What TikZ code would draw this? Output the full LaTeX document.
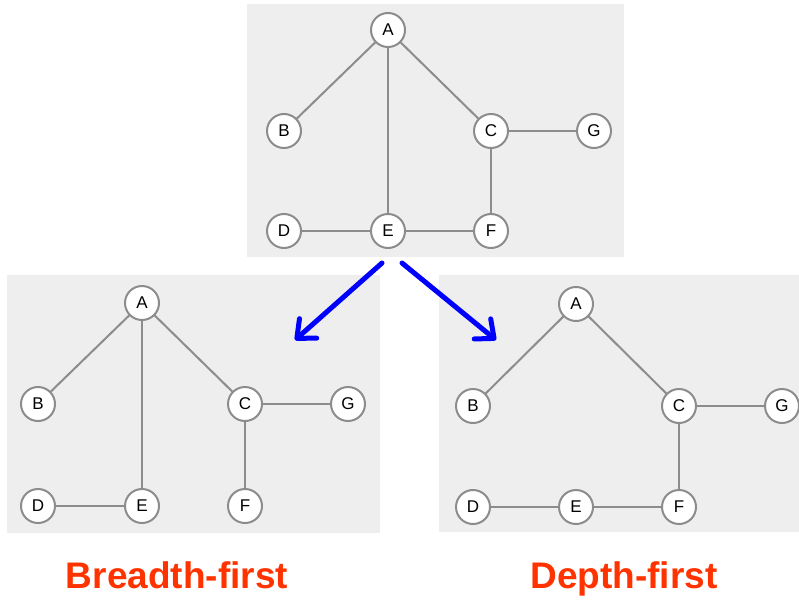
\documentclass[tikz,border=0pt]{standalone}
\usepackage{fontspec}
\setmainfont{Liberation Sans}
\usetikzlibrary{arrows.meta}
\definecolor{panelbg}{HTML}{EEEEEE}
\definecolor{edgegray}{HTML}{8C8C8C}
\definecolor{titlered}{HTML}{FF3300}
\begin{document}
\begin{tikzpicture}[x=1pt,y=-1pt,
  vtx/.style={circle, draw=edgegray, line width=2pt, fill=white, minimum size=34pt, inner sep=0pt, font=\fontsize{17}{17}\selectfont},
  edge/.style={draw=edgegray, line width=2pt},
  panel/.style={fill=panelbg, draw=none},
  bigarrow/.style={draw=blue, line width=5pt, line cap=round, -{Straight Barb[length=15pt,width=26pt,round]}},
  title/.style={text=titlered, anchor=base, inner sep=0pt, font=\fontsize{37}{37}\selectfont\bfseries}]
\useasboundingbox (0,0) rectangle (799,599);
% panels
\fill[panel] (247,4) rectangle (624,257);
\fill[panel] (7,275) rectangle (380,533);
\fill[panel] (439,275) rectangle (799,532);
% top graph
\node[vtx] (tA) at (388,30) {A};
\node[vtx] (tB) at (284,131) {B};
\node[vtx] (tC) at (491,131) {C};
\node[vtx] (tG) at (594,131) {G};
\node[vtx] (tD) at (284,231) {D};
\node[vtx] (tE) at (388,231) {E};
\node[vtx] (tF) at (491,231) {F};
\draw[edge] (tA) -- (tB);
\draw[edge] (tA) -- (tE);
\draw[edge] (tA) -- (tC);
\draw[edge] (tC) -- (tG);
\draw[edge] (tC) -- (tF);
\draw[edge] (tD) -- (tE);
\draw[edge] (tE) -- (tF);
% left graph (breadth-first)
\node[vtx] (lA) at (142,303) {A};
\node[vtx] (lB) at (38,404) {B};
\node[vtx] (lC) at (245,404) {C};
\node[vtx] (lG) at (348,404) {G};
\node[vtx] (lD) at (38,506) {D};
\node[vtx] (lE) at (142,506) {E};
\node[vtx] (lF) at (245,506) {F};
\draw[edge] (lA) -- (lB);
\draw[edge] (lA) -- (lE);
\draw[edge] (lA) -- (lC);
\draw[edge] (lC) -- (lG);
\draw[edge] (lC) -- (lF);
\draw[edge] (lD) -- (lE);
% right graph (depth-first)
\node[vtx] (rA) at (576,304) {A};
\node[vtx] (rB) at (473,406) {B};
\node[vtx] (rC) at (679,406) {C};
\node[vtx] (rG) at (782,406) {G};
\node[vtx] (rD) at (473,507) {D};
\node[vtx] (rE) at (576,507) {E};
\node[vtx] (rF) at (679,507) {F};
\draw[edge] (rA) -- (rB);
\draw[edge] (rA) -- (rC);
\draw[edge] (rC) -- (rG);
\draw[edge] (rC) -- (rF);
\draw[edge] (rF) -- (rE);
\draw[edge] (rE) -- (rD);
% arrows
\coordinate (a1s) at (382,263);
\coordinate (a1e) at (295,340);
\coordinate (a2s) at (402,263);
\coordinate (a2e) at (496,340);
\draw[bigarrow] (a1s) -- (a1e);
\draw[bigarrow] (a2s) -- (a2e);
% titles
\node[title] (bf) at (177,588) {Breadth-first};
\node[title] (df) at (624,588) {Depth-first};
\end{tikzpicture}
\end{document}
